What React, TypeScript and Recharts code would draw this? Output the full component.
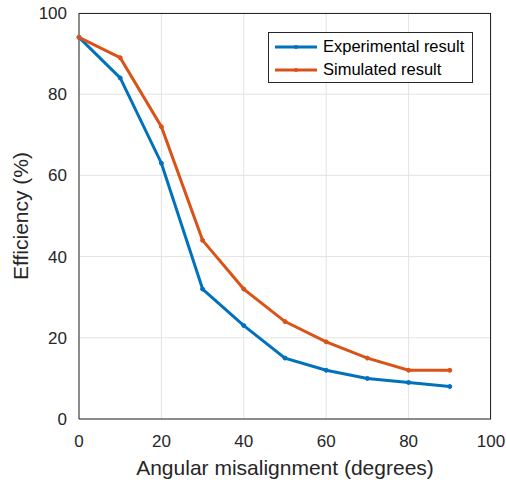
import React from 'react';
import { LineChart, Line, XAxis, YAxis, CartesianGrid } from 'recharts';

const angles = [0, 10, 20, 30, 40, 50, 60, 70, 80, 90];
const experimental = [94, 84, 63, 32, 23, 15, 12, 10, 9, 8];
const simulated = [94, 89, 72, 44, 32, 24, 19, 15, 12, 12];
const xTicks = [0, 20, 40, 60, 80, 100];
const yTicks = [0, 20, 40, 60, 80, 100];

const BLUE = '#0072BD';
const ORANGE = '#D95319';
const FONT = 'Liberation Sans, Arial, sans-serif';

const chartData = angles.map((a, i) => ({
  angle: a,
  experimental: experimental[i],
  simulated: simulated[i],
}));

const legendItems = [
  { name: 'Experimental result', color: BLUE },
  { name: 'Simulated result', color: ORANGE },
];

const LegendBox = () => (
  <div
    style={{
      position: 'absolute',
      left: 268,
      top: 32,
      width: 205,
      height: 51,
      border: '1px solid #262626',
      background: '#fff',
      fontFamily: FONT,
      fontSize: 16.5,
      color: '#000',
      boxSizing: 'border-box',
      padding: '2px 0 0 5px',
    }}
  >
    {legendItems.map((it) => (
      <div key={it.name} style={{ display: 'flex', alignItems: 'center', height: 23 }}>
        <svg width={44} height={10} style={{ marginRight: 5 }}>
          <line x1={1} y1={5} x2={43} y2={5} stroke={it.color} strokeWidth={3} />
          <circle cx={22} cy={5} r={2} fill={it.color} />
        </svg>
        <span>{it.name}</span>
      </div>
    ))}
  </div>
);

const App = () => {
  return (
    <div style={{ position: 'absolute', left: 0, top: 0, width: 506, height: 482, background: '#fff' }}>
      <LineChart
        width={506}
        height={482}
        data={chartData}
        margin={{ top: 13, right: 15, bottom: 0, left: 0 }}
        style={{ fontFamily: FONT }}
      >
        <CartesianGrid stroke="#e3e3e3" strokeWidth={1} />
        <XAxis
          dataKey="angle"
          type="number"
          domain={[0, 100]}
          ticks={xTicks}
          height={63}
          axisLine={{ stroke: '#262626' }}
          tickLine={false}
          tick={{ fill: '#262626', fontSize: 17, dy: 8 }}
          label={{ value: 'Angular misalignment (degrees)', position: 'insideBottom', offset: 7, fill: '#262626', fontSize: 21 }}
        />
        <YAxis
          type="number"
          domain={[0, 100]}
          ticks={yTicks}
          width={79}
          axisLine={{ stroke: '#262626' }}
          tickLine={false}
          tick={{ fill: '#262626', fontSize: 17, dx: -4 }}
          label={{ value: 'Efficiency (%)', angle: -90, position: 'insideLeft', offset: 21, fill: '#262626', fontSize: 21, style: { textAnchor: 'middle' } }}
        />
        <Line
          dataKey="experimental"
          name="Experimental result"
          stroke={BLUE}
          strokeWidth={3}
          dot={{ r: 2, fill: BLUE, stroke: BLUE, strokeWidth: 1 }}
          isAnimationActive={false}
        />
        <Line
          dataKey="simulated"
          name="Simulated result"
          stroke={ORANGE}
          strokeWidth={3}
          dot={{ r: 2, fill: ORANGE, stroke: ORANGE, strokeWidth: 1 }}
          isAnimationActive={false}
        />
      </LineChart>
      {/* axes box (top and right edges) */}
      <div
        style={{
          position: 'absolute',
          left: 79,
          top: 13,
          width: 412,
          height: 406,
          borderTop: '1px solid #262626',
          borderRight: '1px solid #262626',
          boxSizing: 'border-box',
          pointerEvents: 'none',
        }}
      />
      <LegendBox />
    </div>
  );
};

export default App;
